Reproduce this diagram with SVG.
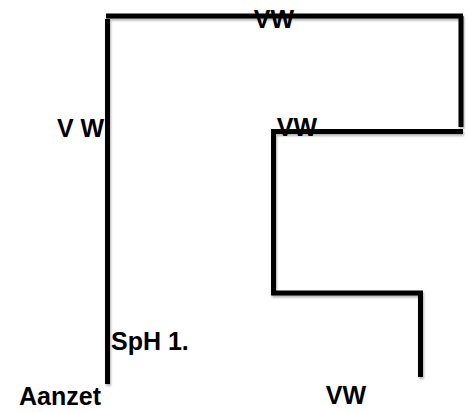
<svg xmlns="http://www.w3.org/2000/svg" width="469" height="412" viewBox="0 0 469 412">
<style>
.ln{stroke:#000;stroke-width:5;fill:none;stroke-linecap:butt}
.lb{font-family:"Liberation Sans",Arial,sans-serif;font-weight:bold;font-size:25px;fill:#000}
</style>
<defs>
<filter id="sh" x="-5%" y="-5%" width="110%" height="110%">
<feDropShadow dx="1" dy="2" stdDeviation="1.2" flood-color="#000" flood-opacity="0.3"/>
</filter>
</defs>
<rect width="469" height="412" fill="#fff"/>
<g id="lines" filter="url(#sh)">
<line class="ln" x1="107.5" y1="19" x2="107.5" y2="384"/>
<line class="ln" x1="106" y1="16" x2="463" y2="16"/>
<line class="ln" x1="461" y1="16" x2="461" y2="127"/>
<line class="ln" x1="271" y1="131.5" x2="463" y2="131.5"/>
<line class="ln" x1="273.5" y1="129" x2="273.5" y2="293"/>
<line class="ln" x1="271" y1="293" x2="423" y2="293"/>
<line class="ln" x1="420.5" y1="291" x2="420.5" y2="377"/>
</g>
<g id="labels">
<text class="lb" x="274" y="28" text-anchor="middle">VW</text>
<text class="lb" x="57" y="137">V W</text>
<text class="lb" x="297" y="136" text-anchor="middle">VW</text>
<text class="lb" x="111" y="350">SpH 1.</text>
<text class="lb" x="19" y="405">Aanzet</text>
<text class="lb" x="346" y="404" text-anchor="middle">VW</text>
</g>
</svg>
